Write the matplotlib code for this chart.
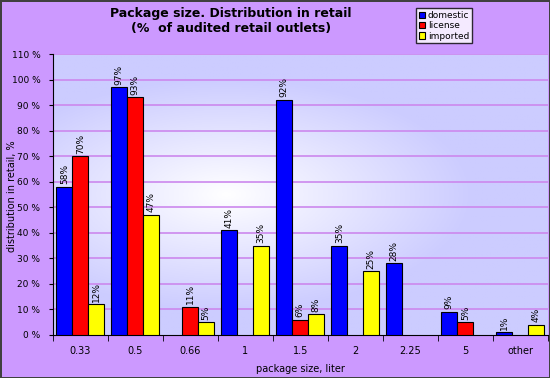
import numpy as np
import matplotlib.pyplot as plt

categories = ["0.33", "0.5", "0.66", "1", "1.5", "2", "2.25", "5", "other"]
domestic = [58, 97, None, 41, 92, 35, 28, 9, 1]
license_ = [70, 93, 11, None, 6, None, None, 5, None]
imported = [12, 47, 5, 35, 8, 25, None, None, 4]
yticks = list(range(0, 111, 10))

series = [
    ("domestic", domestic, "#0000ff"),
    ("license", license_, "#ff0000"),
    ("imported", imported, "#ffff00"),
]

fig = plt.figure(figsize=(5.5, 3.78), dpi=100)
fig.patch.set_facecolor("#cc99ff")
fig.patch.set_edgecolor("#404040")
fig.patch.set_linewidth(2)

ax = fig.add_axes([0.096, 0.114, 0.9, 0.743])
ax.set_facecolor("none")

# gradient background of the plot area
xx, yy = np.meshgrid(np.linspace(-1, 1, 200), np.linspace(-1, 1, 200))
r = np.clip(np.sqrt((xx + 0.3) ** 2 + (yy * 1.2) ** 2), 0, 1)
c0 = np.array([1.0, 1.0, 1.0])
c1 = np.array([0.8, 0.8, 1.0])
img = c0 + (c1 - c0) * r[..., None]
ax.imshow(img, extent=[-0.5, len(categories) - 0.5, 0, 110],
          aspect="auto", zorder=0)

for y in yticks[1:]:
    ax.axhline(y, color="#cc88ee", lw=1.2, zorder=1)

x = np.arange(len(categories))
w = 0.29
for i, (name, vals, col) in enumerate(series):
    pos = x + (i - 1) * w
    h = [v if v is not None else 0 for v in vals]
    bars = ax.bar(pos, h, w, color=col, edgecolor="black", lw=0.8,
                  label=name, zorder=3)
    for b, v in zip(bars, vals):
        if v is None:
            b.set_visible(False)
            continue
        ax.text(b.get_x() + b.get_width() / 2, v + 1, f"{v}%",
                rotation=90, ha="center", va="bottom", fontsize=6.5, zorder=4)

ax.set_xlim(-0.5, len(categories) - 0.5)
ax.set_ylim(0, 110)
ax.set_yticks(yticks)
ax.set_yticklabels([f"{t} %" for t in yticks], fontsize=6.5)
ax.set_xticks(x)
ax.set_xticklabels(categories, fontsize=7)
ax.set_xticks(np.arange(len(categories) + 1) - 0.5, minor=True)
ax.tick_params(axis="x", which="major", length=0, pad=8)
ax.tick_params(axis="x", which="minor", length=4)
ax.tick_params(axis="y", length=3, pad=6)
for s in ["top", "right"]:
    ax.spines[s].set_visible(False)

ax.set_xlabel("package size, liter", fontsize=7, labelpad=6)
fig.text(0.022, 0.48, "distribution in retail, %", rotation=90,
         ha="center", va="center", fontsize=7)

fig.text(0.42, 0.945, "Package size. Distribution in retail\n(%  of audited retail outlets)",
         ha="center", va="center", fontsize=9, fontweight="bold", linespacing=1.2)

leg = fig.legend(loc="upper left", bbox_to_anchor=(0.748, 0.99), fontsize=6.5,
                 frameon=True, fancybox=False, edgecolor="black",
                 handlelength=0.7, handleheight=0.7, handletextpad=0.3,
                 borderpad=0.3, labelspacing=0.15)
leg.get_frame().set_linewidth(1)
leg.get_frame().set_facecolor("white")

fig.savefig("out.png", dpi=100, facecolor=fig.get_facecolor(), edgecolor=fig.get_edgecolor())
